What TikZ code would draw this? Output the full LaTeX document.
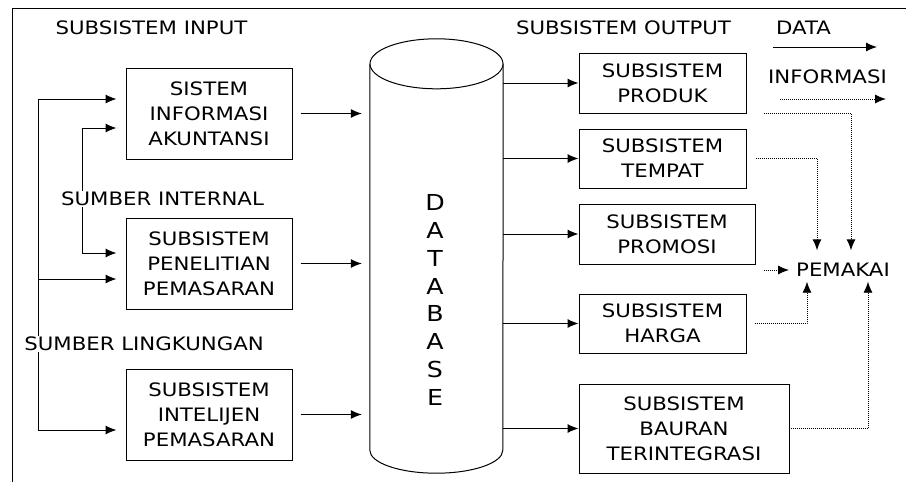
\documentclass[tikz,border=0pt]{standalone}
\usepackage{fontspec}
\setmainfont{DejaVu Sans}[FakeStretch=1.15]
\usepackage{tikz}
\usetikzlibrary{arrows.meta, positioning, calc}
\tikzset{
    box/.style={draw=black, line width=1pt, align=center, inner sep=0pt},
    arr/.style={-{Latex[length=11pt, width=9pt]}, line width=1pt},
    dotarr/.style={-{Latex[length=11pt, width=9pt]}, line width=0.9pt, dash pattern=on 1pt off 1pt},
    lbl/.style={fill=white, inner sep=1pt}
}

\begin{document}
\begin{tikzpicture}[x=1pt, y=-1pt, font=\fontsize{18.5}{25}\selectfont]
                \useasboundingbox (0,0) rectangle (906,482);
                % --- Ramka ---
                \draw[line width=1pt] (12,482) -- (12,8) -- (906,8);

                % --- Judul ---
                \node[lbl] (tin) at (151.5,28) {SUBSISTEM INPUT};
                \node[lbl] (tout) at (623.5,28) {SUBSISTEM OUTPUT};
                \node (tdata) at (803.5,28) {DATA};
                \node (tinfo) at (827.5,77) {INFORMASI};

                % --- Subsistem input ---
                \node[box, minimum width=166, minimum height=91] (sia) at (209,113.5) {SISTEM\\INFORMASI\\AKUNTANSI};
                \node[box, minimum width=166, minimum height=91] (spp) at (209,263.5) {SUBSISTEM\\PENELITIAN\\PEMASARAN};
                \node[box, minimum width=166, minimum height=91] (sip) at (209,414.5) {SUBSISTEM\\INTELIJEN\\PEMASARAN};

                % --- Database ---
                \node[minimum width=133, minimum height=386] (db) at (436.5,257) {};
                \draw[line width=1pt] (db.north west) -- (db.south west) arc[start angle=180, end angle=360, x radius=66.5pt, y radius=23pt] -- (db.north east);
                \draw[line width=1pt, fill=white] (db.north) ellipse[x radius=66.5pt, y radius=25pt];
                \node[align=center, font=\fontsize{22}{27.8}\selectfont] (dbt) at (435,300) {D\\A\\T\\A\\B\\A\\S\\E};

                % --- Subsistem output ---
                \node[box, minimum width=167, minimum height=60] (produk) at (662.5,83) {SUBSISTEM\\PRODUK};
                \node[box, minimum width=167, minimum height=59] (tempat) at (662.5,158.5) {SUBSISTEM\\TEMPAT};
                \node[box, minimum width=176, minimum height=60] (promosi) at (667,234) {SUBSISTEM\\PROMOSI};
                \node[box, minimum width=167, minimum height=59] (harga) at (662.5,323.5) {SUBSISTEM\\HARGA};
                \node[box, minimum width=210, minimum height=89] (bauran) at (684,428.5) {SUBSISTEM\\BAURAN\\TERINTEGRASI};
                \node[inner xsep=7pt, inner ysep=5pt, text height=13pt, text depth=0pt] (pem) at (843,270) {PEMAKAI};

                % --- Sumber ---
                \coordinate (ext1) at (38,99);
                \coordinate (ext2) at (38,279);
                \coordinate (ext3) at (38,430);
                \coordinate (int1) at (82,128);
                \coordinate (int2) at (82,253);
                \draw[arr, shorten >=9pt] (ext3) |- (sia.west |- ext1);
                \draw[arr, shorten >=9pt] (ext2) -- (spp.west |- ext2);
                \draw[arr, shorten >=9pt] (ext3) -- (sip.west |- ext3);
                \draw[arr, shorten >=9pt] (int2) |- (sia.west |- int1);
                \draw[arr, shorten >=9pt] (int2) -- (spp.west |- int2);
                \node[lbl] (sint) at (162.5,199) {SUMBER INTERNAL};
                \node[lbl] (sling) at (144,344) {SUMBER LINGKUNGAN};

                % --- Data ke database ---
                \draw[arr, shorten <=8pt, shorten >=8pt] (sia.east) -- (sia.east -| db.west);
                \draw[arr, shorten <=8pt, shorten >=8pt] (spp.east) -- (spp.east -| db.west);
                \draw[arr, shorten <=8pt, shorten >=8pt] (sip.east) -- (sip.east -| db.west);

                % --- Database ke output ---
                \draw[arr] (db.east |- produk.west) -- (produk.west);
                \draw[arr] (db.east |- tempat.west) -- (tempat.west);
                \draw[arr] (db.east |- promosi.west) -- (promosi.west);
                \draw[arr] (db.east |- harga.west) -- (harga.west);
                \draw[arr] (db.east |- bauran.west) -- (bauran.west);

                % --- Informasi ke pemakai ---
                \coordinate (prm) at ($(promosi.east)+(8,0)$);
                \draw[dotarr, shorten >=8pt] ($(produk.south east)+(17,0)$) -| ([xshift=8pt]pem.north);
                \draw[dotarr, shorten >=8pt] ($(tempat.east)+(9,0)$) -| ([xshift=-26pt]pem.north);
                \draw[dotarr] (prm |- pem.west) -- (pem.west);
                \draw[dotarr] ($(harga.east)+(8,0)$) -| ([xshift=-36pt]pem.south);
                \draw[dotarr] ($(bauran.east)+(1,0)$) -| ([xshift=25pt]pem.south);

                % --- Legenda ---
                \coordinate (d1) at (773,47);
                \coordinate (d2) at (877,47);
                \coordinate (i1) at (780,99);
                \coordinate (i2) at (886,99);
                \draw[arr] (d1) -- (d2);
                \draw[dotarr] (i1) -- (i2);
            \end{tikzpicture}
\end{document}
